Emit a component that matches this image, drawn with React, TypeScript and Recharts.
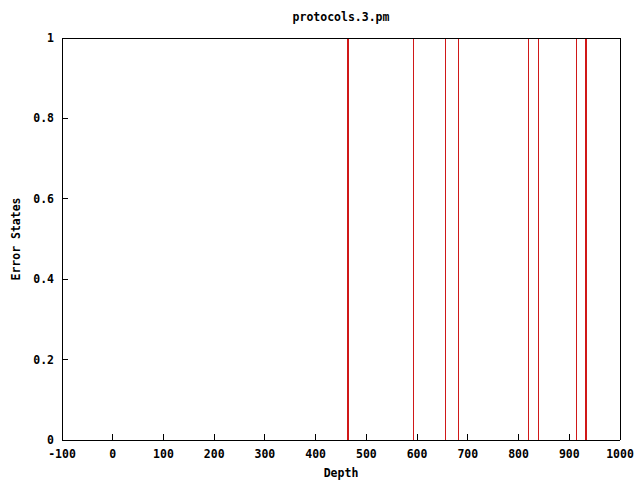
import React from "react";
import { BarChart, Bar, XAxis, YAxis } from "recharts";

const depths = [463, 465, 593, 656, 682, 820, 839, 914, 932, 934];
const errorStates = [1, 1, 1, 1, 1, 1, 1, 1, 1, 1];
const xTicks = [-100, 0, 100, 200, 300, 400, 500, 600, 700, 800, 900, 1000];
const yTicks = [0, 0.2, 0.4, 0.6, 0.8, 1];

const data = depths.map((depth, i) => ({ depth, state: errorStates[i] }));

const FONT = "'DejaVu Sans Mono', 'Liberation Mono', monospace";
const tickStyle = { fill: "#000", fontSize: 11.5, fontFamily: FONT, fontWeight: "bold" };

// impulse: 1px wide line centred on the bar's x position
const Impulse = (props: any) => {
  const { x, y, width, height } = props;
  const cx = Math.floor(x + width / 2);
  return <rect x={cx} y={y} width={1} height={height} fill="#d01818" />;
};

export default function App() {
  return (
    <div style={{ position: "absolute", left: 0, top: 0, width: 640, height: 480, background: "#fff" }}>
      <div
        style={{
          position: "absolute",
          top: 10,
          left: 62,
          width: 558,
          textAlign: "center",
          fontFamily: FONT,
          fontWeight: "bold",
          fontSize: 11.5,
          lineHeight: "14px",
        }}
      >
        protocols.3.pm
      </div>
      <BarChart
        width={640}
        height={480}
        data={data}
        margin={{ top: 37, right: 19, bottom: 0, left: 0 }}
        style={{ shapeRendering: "crispEdges" }}
      >
        <XAxis
          dataKey="depth"
          type="number"
          domain={[-100, 1000]}
          ticks={xTicks}
          allowDataOverflow
          height={40}
          stroke="#000"
          tickSize={-6}
          tickMargin={16}
          tick={tickStyle}
          interval={0}
          label={{
            content: ({ viewBox }: any) => (
              <text
                x={viewBox.x + viewBox.width / 2}
                y={473}
                textAnchor="middle"
                dominantBaseline="central"
                style={{ fontFamily: FONT, fontWeight: "bold", fontSize: 11.5 }}
              >
                Depth
              </text>
            ),
          }}
        />
        <XAxis
          xAxisId="top"
          orientation="top"
          type="number"
          domain={[-100, 1000]}
          ticks={xTicks}
          allowDataOverflow
          height={1}
          stroke="#000"
          tickSize={-6}
          tick={false}
          interval={0}
        />
        <YAxis
          type="number"
          domain={[0, 1]}
          ticks={yTicks}
          width={62}
          stroke="#000"
          tickSize={-6}
          tickMargin={14}
          tick={tickStyle}
          interval={0}
          label={{
            content: ({ viewBox }: any) => {
              const x = 16;
              const y = viewBox.y + viewBox.height / 2;
              return (
                <text
                  x={x}
                  y={y}
                  transform={`rotate(-90, ${x}, ${y})`}
                  textAnchor="middle"
                  dominantBaseline="central"
                  style={{ fontFamily: FONT, fontWeight: "bold", fontSize: 11.5 }}
                >
                  Error States
                </text>
              );
            },
          }}
        />
        <YAxis
          yAxisId="right"
          orientation="right"
          type="number"
          domain={[0, 1]}
          ticks={yTicks}
          width={1}
          stroke="#000"
          tickSize={-6}
          tick={false}
          interval={0}
        />
        <Bar dataKey="state" fill="#d01818" barSize={1} shape={Impulse} isAnimationActive={false} />
      </BarChart>
    </div>
  );
}
